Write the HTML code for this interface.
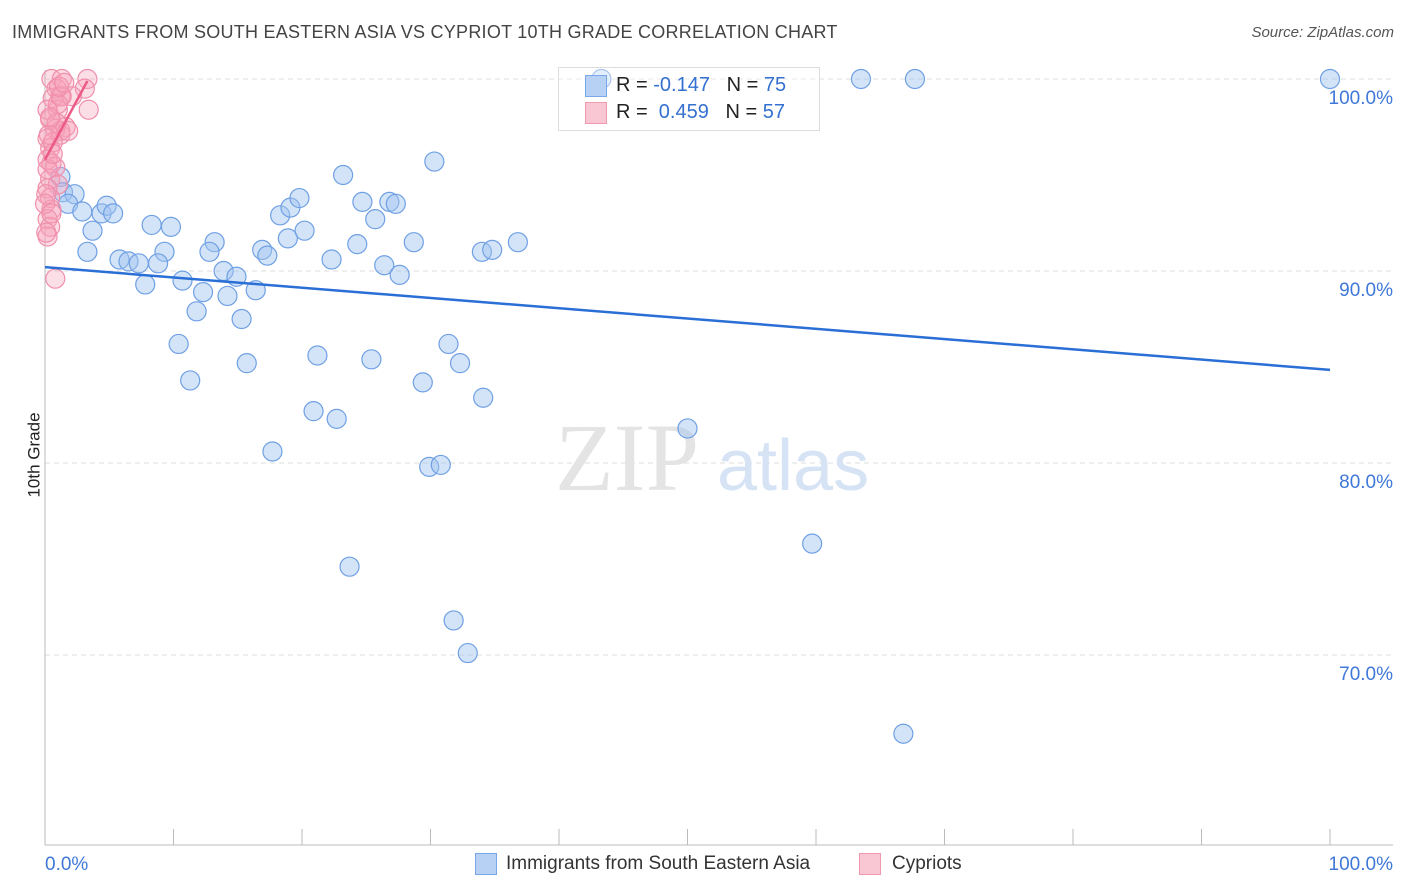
<!DOCTYPE html>
<html><head><meta charset="utf-8"><style>
body{margin:0;background:#fff;font-family:"Liberation Sans",sans-serif;}
#wrap{position:relative;width:1406px;height:892px;overflow:hidden;}
.t{position:absolute;white-space:nowrap;}
</style></head><body>
<div id="wrap">
<div class="t" style="left:12px;top:22px;font-size:18px;letter-spacing:0.25px;color:#444;">IMMIGRANTS FROM SOUTH EASTERN ASIA VS CYPRIOT 10TH GRADE CORRELATION CHART</div>
<div class="t" style="right:12px;top:24px;font-size:15px;color:#555;font-style:italic;">Source: ZipAtlas.com</div>
<div class="t" style="left:-8px;top:445px;font-size:17px;color:#222;transform:rotate(-90deg);">10th Grade</div>
<svg id="svg" width="1406" height="892" style="position:absolute;left:0;top:0"></svg>
<div class="t" style="left:558px;top:67px;width:260px;height:62px;border:1px solid #ddd;background:rgba(255,255,255,0.4);"></div>
<div class="t" style="left:585px;top:75px;width:20px;height:20px;background:#b7d1f5;border:1px solid #7aa7e8;"></div>
<div class="t" style="left:616px;top:74px;font-size:20px;color:#222;">R = <span style="color:#3370d0">-0.147</span>&nbsp;&nbsp;&nbsp;N = <span style="color:#3370d0">75</span></div>
<div class="t" style="left:585px;top:102px;width:20px;height:20px;background:#f9c6d3;border:1px solid #f09ab0;"></div>
<div class="t" style="left:616px;top:101px;font-size:20px;color:#222;">R = &nbsp;<span style="color:#3370d0">0.459</span>&nbsp;&nbsp;&nbsp;N = <span style="color:#3370d0">57</span></div>
<div class="t" style="left:475px;top:853px;width:20px;height:20px;background:#b7d1f5;border:1px solid #7aa7e8;"></div>
<div class="t" style="left:506px;top:853px;font-size:19px;color:#333;">Immigrants from South Eastern Asia</div>
<div class="t" style="left:859px;top:853px;width:20px;height:20px;background:#f9c6d3;border:1px solid #f09ab0;"></div>
<div class="t" style="left:892px;top:853px;font-size:19px;color:#333;">Cypriots</div>
</div>
<script>
const yTicks=[100,90,80,70];
const yTickLabels=["100.0%","90.0%","80.0%","70.0%"];
const xTickLabels=["0.0%","100.0%"];
const blueX=[43.3,63.5,67.7,100,1.2,1.4,2.3,1.8,2.9,4.4,4.8,5.3,3.7,3.3,8.3,9.8,5.8,6.5,7.3,9.3,8.8,7.8,10.7,13.2,12.8,13.9,14.9,12.3,14.2,16.4,11.8,15.3,10.4,11.3,15.7,16.9,17.3,18.3,19.1,19.8,18.9,20.2,22.3,23.2,24.7,25.7,24.3,26.8,27.3,28.7,26.4,27.6,30.3,34.0,34.8,36.8,21.2,25.4,31.4,32.3,29.4,34.1,20.9,22.7,17.7,29.9,30.8,50.0,59.7,23.7,31.8,32.9,66.8];
const blueY=[100,100,100,100,94.9,94.1,94.0,93.5,93.1,93.0,93.4,93.0,92.1,91.0,92.4,92.3,90.6,90.5,90.4,91.0,90.4,89.3,89.5,91.5,91.0,90.0,89.7,88.9,88.7,89.0,87.9,87.5,86.2,84.3,85.2,91.1,90.8,92.9,93.3,93.8,91.7,92.1,90.6,95.0,93.6,92.7,91.4,93.6,93.5,91.5,90.3,89.8,95.7,91.0,91.1,91.5,85.6,85.4,86.2,85.2,84.2,83.4,82.7,82.3,80.6,79.8,79.9,81.8,75.8,74.6,71.8,70.1,65.9];
const pinkX=[0.5,1.3,3.3,0.9,3.1,1.2,0.6,2.1,3.4,1.0,0.4,1.6,0.8,0.2,1.2,0.4,0.2,0.8,0.4,1.0,0.2,0.4,0.5,0.2,0.4,0.2,1.2,0.9,1.3,1.0,0.5,0.2,0.6,0.3,1.8,0.1,0,0.5,0.8,0.1,0.2,1.1,1.5,0.6,0.4];
const pinkY=[100,100,100,99.5,99.5,99.1,99.0,99.1,98.4,98.4,97.9,97.5,97.4,96.9,97.1,96.4,95.8,95.4,94.8,94.5,94.3,93.8,93.2,92.7,92.3,91.8,97.3,97.7,99.1,98.7,95.6,95.3,96.7,97.1,97.3,94.0,93.5,93.0,89.6,92.0,98.4,99.6,99.8,96.1,98.0];
const blueTrend=[90.2,84.85];
const pinkTrend=[95.8,99.9];
const pinkTrendX=[0,3.3];
const NS="http://www.w3.org/2000/svg";
const svg=document.getElementById('svg');
const X0=45,X1=1330,Y100=79,PX=19.2;
const sx=v=>X0+(X1-X0)*v/100;
const sy=v=>Y100+(100-v)*PX;
function mk(tag,a){const e=document.createElementNS(NS,tag);for(const k in a)e.setAttribute(k,a[k]);svg.appendChild(e);return e;}
yTicks.forEach((t,i)=>{
 const g=mk('line',{x1:X0,x2:1393,y1:sy(t),y2:sy(t),stroke:'#ddd','stroke-dasharray':'5,4'});
 
 
 const tx=mk('text',{x:1393,y:sy(t)+25,'text-anchor':'end','font-size':19,fill:'#3f78d8','font-family':'Liberation Sans, sans-serif'});
 tx.textContent=yTickLabels[i];
 
 
});
const w1=mk('text',{x:555,y:490,'font-size':96,fill:'#e4e4e4','font-family':'Liberation Serif, serif'});w1.textContent='ZIP';


const w2=mk('text',{x:717,y:490,'font-size':72,fill:'#d6e3f5','font-family':'Liberation Sans, sans-serif'});w2.textContent='atlas';


const ax=mk('line',{x1:X0,x2:1393,y1:845,y2:845,stroke:'#bbb'});


const ay=mk('line',{x1:X0,x2:X0,y1:70,y2:845,stroke:'#bbb'});


for(let i=0;i<=10;i++){const tk=mk('line',{x1:sx(i*10),x2:sx(i*10),y1:829,y2:845,stroke:'#bbb'});
 
 }
[[0,'start',45],[1,'end',1393]].forEach(([i,an,x])=>{const t=mk('text',{x:x,y:870,'text-anchor':an,'font-size':19,fill:'#3f78d8','font-family':'Liberation Sans, sans-serif'});t.textContent=xTickLabels[i];
 
 });
blueX.forEach((v,i)=>{const c=mk('circle',{cx:sx(v),cy:sy(blueY[i]),r:9.5,fill:'rgba(160,196,240,0.45)',stroke:'#6fa0e4','stroke-width':1.2});
 
 });
pinkX.forEach((v,i)=>{const c=mk('circle',{cx:sx(v),cy:sy(pinkY[i]),r:9.5,fill:'rgba(246,160,185,0.35)',stroke:'#f08fac','stroke-width':1.2});
 
 });
const bt=mk('line',{x1:sx(0),y1:sy(blueTrend[0]),x2:sx(100),y2:sy(blueTrend[1]),stroke:'#2a6fd6','stroke-width':2.5});


const pt=mk('line',{x1:sx(pinkTrendX[0]),y1:sy(pinkTrend[0]),x2:sx(pinkTrendX[1]),y2:sy(pinkTrend[1]),stroke:'#ec5a86','stroke-width':2.5});


</script>
</body></html>
